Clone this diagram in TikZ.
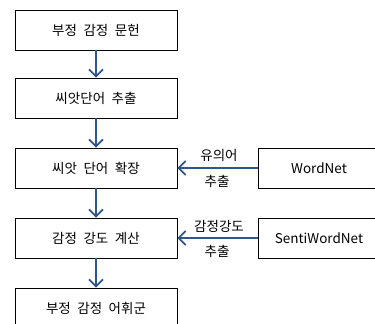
\documentclass[tikz,border=0pt]{standalone}
\usepackage{fontspec}
\setmainfont{Noto Sans CJK KR}
\usetikzlibrary{arrows.meta}
\definecolor{arrblue}{RGB}{47,85,138}
\newcommand\myboxfont{\fontsize{13.5}{15}\selectfont\spaceskip=6.5pt\relax}
\begin{document}
\begin{tikzpicture}[x=1pt,y=-1pt,
  box/.style={draw=black,line width=0.8pt,minimum height=40pt,inner sep=0pt,font=\myboxfont},
  conn/.style={draw=arrblue,line width=1.8pt,-{Straight Barb[length=7pt,width=14pt,line width=1.7pt]}},
  lab/.style={font=\fontsize{13.5}{15}\selectfont,inner sep=0pt}]
\useasboundingbox (0,0) rectangle (375,324);
\node[box,minimum width=162pt] (b1) at (96,30) {부정 감정 문헌};
\node[box,minimum width=162pt] (b2) at (96,98) {씨앗단어 추출};
\node[box,minimum width=162pt] (b3) at (96,168) {씨앗 단어 확장};
\node[box,minimum width=162pt] (b4) at (96,238) {감정 강도 계산};
\node[box,minimum width=162pt] (b5) at (96,308) {부정 감정 어휘군};
\node[box,minimum width=122pt] (w1) at (319,168) {WordNet};
\node[box,minimum width=122pt] (w2) at (319,238) {SentiWordNet};
\draw[conn] (b1) -- (b2);
\draw[conn] (b2) -- (b3);
\draw[conn] (b3) -- (b4);
\draw[conn] (b4) -- (b5);
\draw[conn] (w1.west) -- (b3.east);
\draw[conn] (w2.west) -- (b4.east);
\node[lab] (l1) at (219,155) {유의어};
\node[lab] (l2) at (217,181) {추출};
\node[lab] (l3) at (219,226) {감정강도};
\node[lab] (l4) at (217,251) {추출};
\end{tikzpicture}
\end{document}
